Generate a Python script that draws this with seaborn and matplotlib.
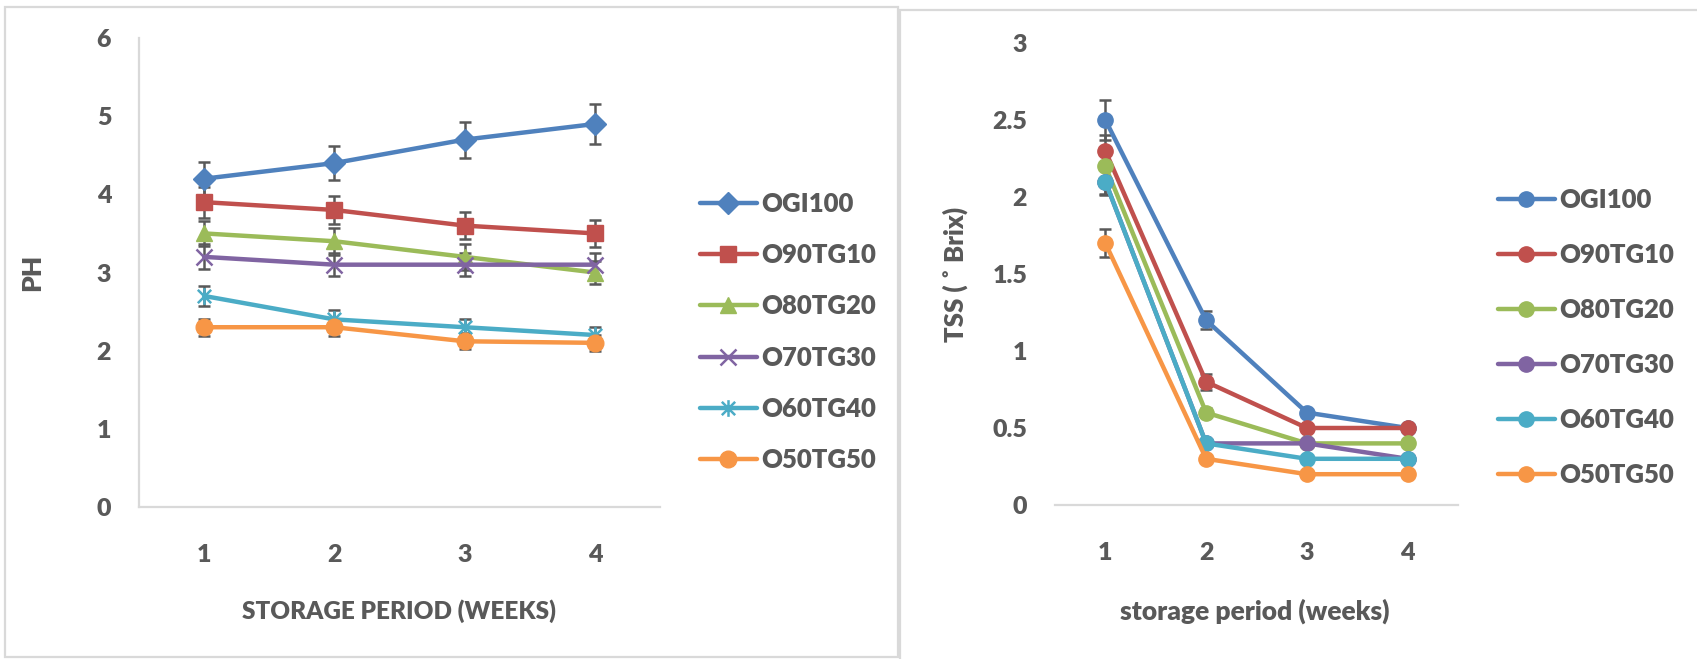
import numpy as np
import matplotlib
matplotlib.use("Agg")
import matplotlib.pyplot as plt
from matplotlib.path import Path
from matplotlib.patches import Rectangle
import seaborn as sns

weeks = [1, 2, 3, 4]
series = ["OGI100", "O90TG10", "O80TG20", "O70TG30", "O60TG40", "O50TG50"]
colors = ["#4F81BD", "#C0504D", "#9BBB59", "#8064A2", "#4BACC6", "#F79646"]

# pH values and error bars
ph_OGI100 = [4.2, 4.4, 4.7, 4.9]
ph_O90TG10 = [3.9, 3.8, 3.6, 3.5]
ph_O80TG20 = [3.5, 3.4, 3.2, 3.0]
ph_O70TG30 = [3.2, 3.1, 3.1, 3.1]
ph_O60TG40 = [2.7, 2.4, 2.3, 2.2]
ph_O50TG50 = [2.3, 2.3, 2.12, 2.1]
ph_err = [
    [0.21, 0.22, 0.23, 0.25],
    [0.2, 0.18, 0.17, 0.17],
    [0.16, 0.17, 0.17, 0.15],
    [0.16, 0.15, 0.15, 0.15],
    [0.13, 0.12, 0.11, 0.1],
    [0.11, 0.11, 0.1, 0.1],
]

# TSS values and error bars
tss_OGI100 = [2.5, 1.2, 0.6, 0.5]
tss_O90TG10 = [2.3, 0.8, 0.5, 0.5]
tss_O80TG20 = [2.2, 0.6, 0.4, 0.4]
tss_O70TG30 = [2.1, 0.4, 0.4, 0.3]
tss_O60TG40 = [2.1, 0.4, 0.3, 0.3]
tss_O50TG50 = [1.7, 0.3, 0.2, 0.2]
tss_err = [
    [0.13, 0.06, 0.02, 0.02],
    [0.1, 0.05, 0.02, 0.02],
    [0.08, 0.03, 0.02, 0.02],
    [0.08, 0.02, 0.02, 0.02],
    [0.09, 0.02, 0.02, 0.02],
    [0.09, 0.02, 0.02, 0.02],
]

ph_values = [ph_OGI100, ph_O90TG10, ph_O80TG20, ph_O70TG30, ph_O60TG40, ph_O50TG50]
tss_values = [tss_OGI100, tss_O90TG10, tss_O80TG20, tss_O70TG30, tss_O60TG40, tss_O50TG50]

sns.set_style("white")
plt.rcParams["font.family"] = ["Lato", "DejaVu Sans"]
plt.rcParams["font.weight"] = "heavy"
plt.rcParams["axes.labelweight"] = "heavy"

TXT = "#595959"
GRID = "#D9D9D9"

star = Path([(-1, -1), (1, 1), (-1, 1), (1, -1), (0, -1.25), (0, 1.25)],
            [Path.MOVETO, Path.LINETO, Path.MOVETO, Path.LINETO, Path.MOVETO, Path.LINETO])
ph_markers = ["D", "s", "^", "x", star, "o"]
ph_sizes = [11, 11, 12, 12, 12, 12]

fig = plt.figure(figsize=(16.97, 6.59), dpi=100)

# panel frames
fig.patches.append(Rectangle((5 / 1697, 1 - 657 / 659), 893 / 1697, 650 / 659,
                             transform=fig.transFigure, fill=False, ec=GRID, lw=1.6))
fig.patches.append(Rectangle((900 / 1697, -0.02), 0.5, 1 - 10 / 659 + 0.02,
                             transform=fig.transFigure, fill=False, ec=GRID, lw=1.6))

ax1 = fig.add_axes([139 / 1697, 1 - 507 / 659, 521 / 1697, 469 / 659])
ax2 = fig.add_axes([1055 / 1697, 1 - 505 / 659, 403 / 1697, 462 / 659])

for i, name in enumerate(series):
    c = colors[i]
    ax1.errorbar(weeks, ph_values[i], yerr=ph_err[i], fmt="none", ecolor=TXT,
                 elinewidth=1.8, capsize=4, capthick=1.8, zorder=2)
    sns.lineplot(x=weeks, y=ph_values[i], ax=ax1, color=c, marker=ph_markers[i],
                 markersize=ph_sizes[i], mec=c, mfc=c if i not in (3, 4) else "none",
                 mew=1.8 if i in (3, 4) else 1, linewidth=3.2, label=name, zorder=3)

    ax2.errorbar(weeks, tss_values[i], yerr=tss_err[i], fmt="none", ecolor=TXT,
                 elinewidth=1.8, capsize=4, capthick=1.8, zorder=2)
    sns.lineplot(x=weeks, y=tss_values[i], ax=ax2, color=c, marker="o",
                 markersize=11, mec=c, mew=1, linewidth=3.2, label=name, zorder=3)

for ax in (ax1, ax2):
    ax.set_xlim(0.5, 4.5)
    ax.set_xticks(weeks)
    ax.set_xticklabels([str(w) for w in weeks])
    ax.tick_params(axis="both", length=0, labelsize=18, labelcolor=TXT)
    ax.tick_params(axis="x", pad=27)
    ax.tick_params(axis="y", pad=20)
    for s in ("top", "right"):
        ax.spines[s].set_visible(False)
    ax.spines["bottom"].set_color(GRID)
    ax.spines["bottom"].set_linewidth(1.6)
    ax.grid(False)

ax1.spines["left"].set_color(GRID)
ax1.spines["left"].set_linewidth(1.6)
ax2.spines["left"].set_visible(False)

ax1.set_ylim(0, 6)
ax1.set_yticks([0, 1, 2, 3, 4, 5, 6])
ax2.set_ylim(0, 3)
ax2.set_yticks([0, 0.5, 1, 1.5, 2, 2.5, 3])
ax2.set_yticklabels(["0", "0.5", "1", "1.5", "2", "2.5", "3"])

ax1.set_xlabel("STORAGE PERIOD (WEEKS)", fontsize=17.5, color=TXT, fontweight="heavy")
ax1.set_ylabel("PH", fontsize=19, color=TXT, fontweight="heavy")
ax2.set_xlabel("storage period (weeks)", fontsize=19, color=TXT, fontweight="heavy")
ax2.set_ylabel("TSS ( \u02da Brix)", fontsize=18.5, color=TXT, fontweight="heavy")

ax1.xaxis.set_label_coords(0.499, -0.222)
ax1.xaxis.label.set_verticalalignment("center")
ax1.yaxis.set_label_coords(-0.205, 0.5)
ax1.yaxis.label.set_verticalalignment("center")
ax2.xaxis.set_label_coords(0.496, -0.229)
ax2.xaxis.label.set_verticalalignment("center")
ax2.yaxis.set_label_coords(-0.248, 0.5)
ax2.yaxis.label.set_verticalalignment("center")

leg1 = ax1.legend(loc="upper left", bbox_to_anchor=(700 / 1697, 1 - 192 / 659),
                  bbox_transform=fig.transFigure, frameon=False, fontsize=18.5,
                  handlelength=2.2, handletextpad=0.2, labelspacing=1.06,
                  borderpad=0, borderaxespad=0)
leg2 = ax2.legend(loc="upper left", bbox_to_anchor=(1498 / 1697, 1 - 188 / 659),
                  bbox_transform=fig.transFigure, frameon=False, fontsize=18.5,
                  handlelength=2.2, handletextpad=0.2, labelspacing=1.21,
                  borderpad=0, borderaxespad=0)
for leg in (leg1, leg2):
    for t in leg.get_texts():
        t.set_color(TXT)

fig.savefig("out.png", dpi=100)
